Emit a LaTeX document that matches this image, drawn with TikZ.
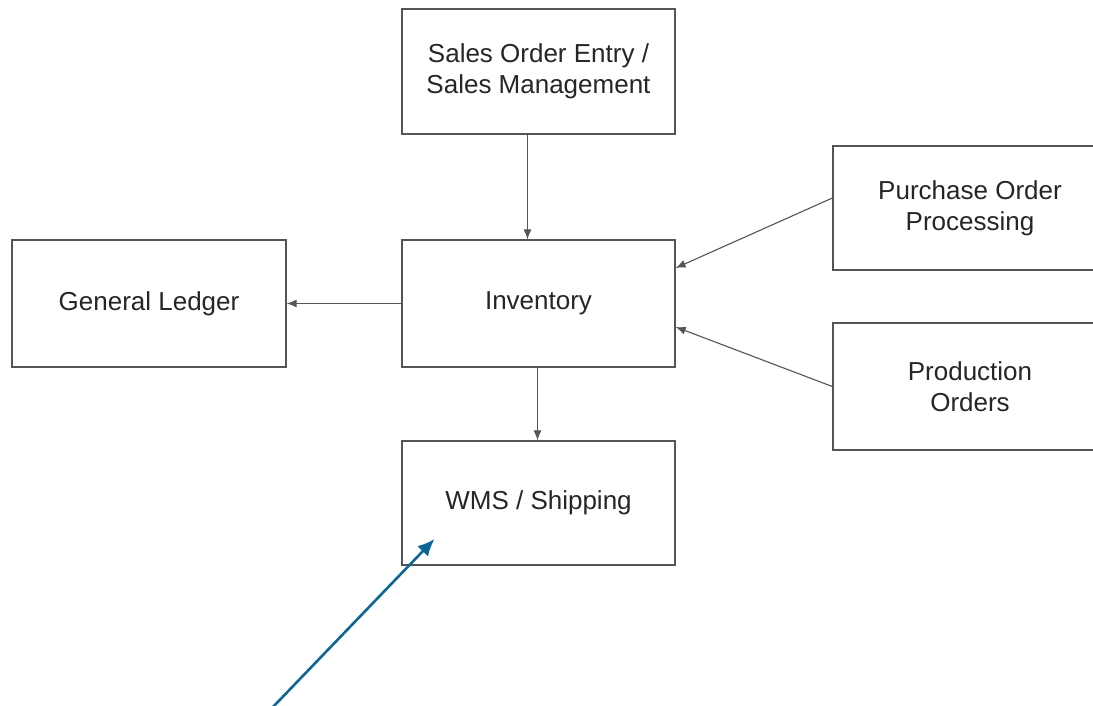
\documentclass[tikz,border=0pt]{standalone}
\usepackage{fontspec}
\setmainfont{Liberation Sans}
\usetikzlibrary{arrows.meta,calc}
\definecolor{boxline}{HTML}{555555}
\definecolor{bluearrow}{HTML}{0B669A}
\begin{document}
\begin{tikzpicture}[x=1pt,y=-1pt,
  blk/.style={draw=boxline, line width=1.3pt, fill=white, inner sep=0pt, align=center,
    font=\fontsize{26}{31}\selectfont, text=black!85},
  conn/.style={draw=boxline, line width=1.1pt, -{Latex[length=10pt,width=8pt]}},
  callout/.style={draw=bluearrow, line width=2.6pt, -{Latex[length=17pt,width=15pt]}}]
\useasboundingbox[fill=white] (0,0) rectangle (1093,705);
\clip (0,0) rectangle (1093,705);
\node[blk, minimum width=273pt, minimum height=125pt] (sales) at (538.5,71.5) {Sales Order Entry /\\Sales Management};
\node[blk, minimum width=273pt, minimum height=127pt] (inv) at (538.5,303.5) {Inventory};
\node[blk, minimum width=274pt, minimum height=127pt] (gl) at (149,303.5) {General Ledger};
\node[blk, minimum width=273pt, minimum height=124pt] (wms) at (538.5,503) {WMS / Shipping};
\node[blk, minimum width=274pt, minimum height=124pt] (po) at (970,208) {Purchase Order\\Processing};
\node[blk, minimum width=274pt, minimum height=127pt] (prod) at (970,386.5) {Production\\Orders};
\coordinate (calloutstart) at (272,708);
\draw[conn] ([xshift=-11pt]sales.south) -- ([xshift=-11pt]inv.north);
\draw[conn] (inv.west) -- (gl.east);
\draw[conn] ([xshift=-1pt]inv.south) -- ([xshift=-1pt]wms.north);
\draw[conn] ([yshift=10pt]po.west) -- ([yshift=35.5pt]inv.east);
\draw[conn] (prod.west) -- ([yshift=-23.5pt]inv.east);
\draw[callout] (calloutstart) -- ([xshift=-104pt,yshift=-36pt]wms.center);
\end{tikzpicture}
\end{document}
